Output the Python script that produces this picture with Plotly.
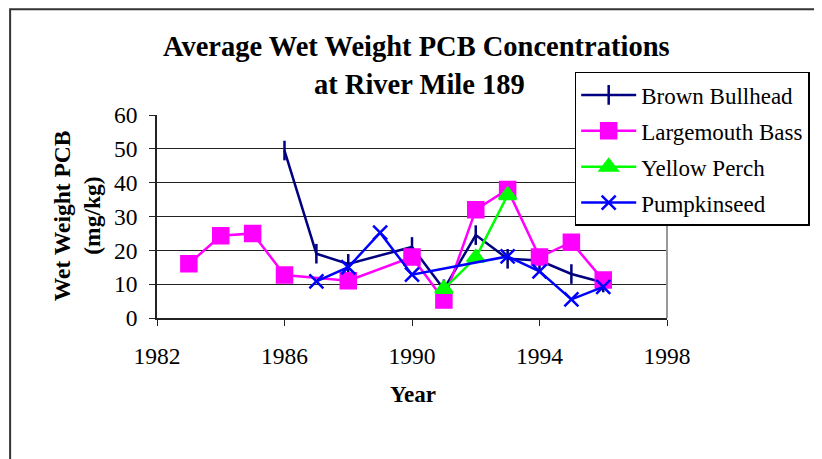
import plotly.graph_objects as go

# data
bullhead_years = [1986, 1987, 1988, 1990, 1991, 1992, 1993, 1994, 1995, 1996]
bullhead_pcb = [49.5, 19, 16, 21, 8.5, 24.5, 17.5, 17, 13, 10.5]

bass_years = [1983, 1984, 1985, 1986, 1988, 1990, 1991, 1992, 1993, 1994, 1995, 1996]
bass_pcb = [16, 24.3, 25, 12.7, 11, 18, 5.3, 32, 38, 18, 22.4, 11.2]

perch_years = [1991, 1992, 1993]
perch_pcb = [8.6, 17.8, 36.3]

pumpkin_years = [1987, 1988, 1989, 1990, 1993, 1994, 1995, 1996]
pumpkin_pcb = [10.8, 15, 25.2, 12.8, 18.2, 13.8, 5.5, 9.2]

x_ticks = [1982, 1986, 1990, 1994, 1998]
y_ticks = [0, 10, 20, 30, 40, 50, 60]

SERIF = "Liberation Serif"

series = [
    ("Brown Bullhead", bullhead_years, bullhead_pcb, "#000080", "line-ns", 14),
    ("Largemouth Bass", bass_years, bass_pcb, "#FF00FF", "square", 15),
    ("Yellow Perch", perch_years, perch_pcb, "#00FF00", "triangle-up", 15),
    ("Pumpkinseed", pumpkin_years, pumpkin_pcb, "#0000FF", "x-thin", 14),
]

fig = go.Figure()
for name, xs, ys, color, symbol, size in series:
    fig.add_trace(go.Scatter(
        x=xs, y=ys, name=name, mode="lines+markers", legendgroup=name,
        line=dict(color=color, width=2.5),
        marker=dict(symbol=symbol, size=size, color=color,
                    line=dict(color=color, width=2.5)),
    ))

fig.update_xaxes(
    range=[1982, 1998], tickvals=x_ticks, ticks="outside", ticklen=6,
    tickcolor="#222", showline=True, linecolor="#222", linewidth=1.5,
    showgrid=False, zeroline=False, ticklabelstandoff=10,
    tickfont=dict(family=SERIF, size=23.5, color="black"),
)
fig.update_yaxes(
    range=[0, 60], tickvals=y_ticks, ticks="outside", ticklen=6,
    tickcolor="#222", showline=True, linecolor="#222", linewidth=1.5,
    showgrid=True, gridcolor="#222", gridwidth=1, zeroline=False,
    ticklabelstandoff=7,
    tickfont=dict(family=SERIF, size=23.5, color="black"),
)

# gray right edge of plot area and outer chart frame (left/top edges)
fig.add_shape(type="line", xref="paper", yref="paper", x0=1, x1=1, y0=0, y1=1,
              line=dict(color="#999", width=2))
fig.add_shape(type="rect", xref="paper", yref="paper",
              x0=-0.288, x1=1.35, y0=-0.8, y1=1.521,
              line=dict(color="#333", width=2), layer="below")

title_font = dict(family=SERIF, size=28.5, color="black")
axis_font = dict(family=SERIF, size=23.5, color="black")
ann = dict(xref="paper", yref="paper", showarrow=False,
           xanchor="center", yanchor="middle")
fig.add_annotation(text="<b>Average Wet Weight PCB Concentrations</b>",
                   x=0.508, y=1.335, font=title_font, **ann)
fig.add_annotation(text="<b>at River Mile 189</b>",
                   x=0.514, y=1.148, font=title_font, **ann)
fig.add_annotation(text="<b>Wet Weight PCB</b>", textangle=-90,
                   x=-0.185, y=0.505, font=axis_font, **ann)
fig.add_annotation(text="<b>(mg/kg)</b>", textangle=-90,
                   x=-0.127, y=0.505, font=axis_font, **ann)
fig.add_annotation(text="<b>Year</b>",
                   x=0.502, y=-0.379, font=dict(family=SERIF, size=23, color="black"), **ann)

# page body has an 8px margin, so the figure is shrunk and shifted by that
fig.update_layout(
    width=814, height=451,
    margin=dict(l=149, r=151, t=107, b=141),
    paper_bgcolor="white", plot_bgcolor="white",
    showlegend=True,
    legend=dict(
        x=0.819, y=1.212, xanchor="left", yanchor="top",
        bgcolor="white", bordercolor="black", borderwidth=1.5,
        font=dict(family=SERIF, size=23, color="black"),
        traceorder="grouped", tracegroupgap=3, itemwidth=55,
    ),
)

fig.write_html("out.html")
